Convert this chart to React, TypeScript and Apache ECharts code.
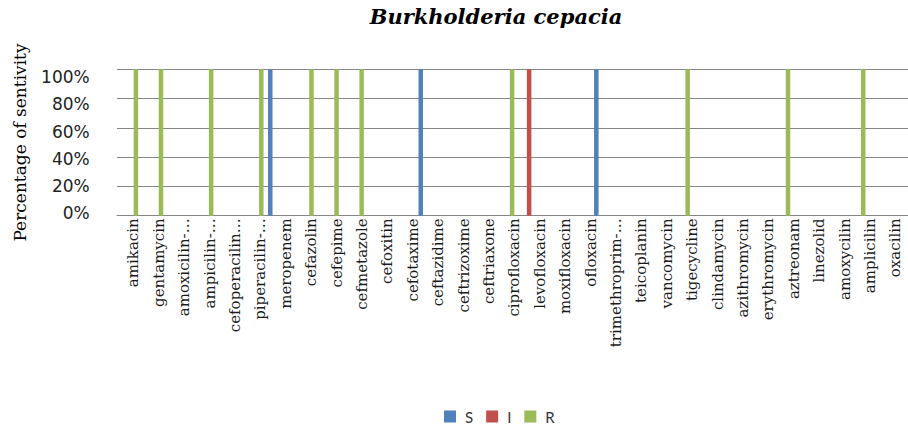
import React, { useEffect, useRef } from "react";
import * as echarts from "echarts";

const categories = [
  "amikacin", "gentamycin", "amoxicilin-…", "ampicilin-…", "cefoperacilin…",
  "piperacilin-…", "meropenem", "cefazolin", "cefepime", "cefmetazole",
  "cefoxitin", "cefotaxime", "ceftazidime", "ceftrizoxime", "ceftriaxone",
  "ciprofloxacin", "levofloxacin", "moxifloxacin", "ofloxacin", "trimethroprim-…",
  "teicoplanin", "vancomycin", "tigecycline", "clindamycin", "azithromycin",
  "erythromycin", "aztreonam", "linezolid", "amoxycilin", "amplicilin", "oxacilin",
];

const sValues = [0, 0, 0, 0, 0, 0, 100, 0, 0, 0, 0, 0, 100, 0, 0, 0, 0, 0, 0, 100, 0, 0, 0, 0, 0, 0, 0, 0, 0, 0, 0];
const iValues = [0, 0, 0, 0, 0, 0, 0, 0, 0, 0, 0, 0, 0, 0, 0, 0, 100, 0, 0, 0, 0, 0, 0, 0, 0, 0, 0, 0, 0, 0, 0];
const rValues = [100, 100, 0, 100, 0, 100, 0, 100, 100, 100, 0, 0, 0, 0, 0, 100, 0, 0, 0, 0, 0, 0, 100, 0, 0, 0, 100, 0, 0, 100, 0];

const seriesNames = ["S", "I", "R"];
const seriesColors = ["#4f81bd", "#c0504d", "#9bbb59"];
const yMin = 0;
const yMax = 100;
const yStep = 20;

const titleText = "Burkholderia cepacia";
const yName = "Percentage of sentivity";

export default function App() {
  const ref = useRef<HTMLDivElement>(null);
  useEffect(() => {
    if (!ref.current) return;
    const chart = echarts.init(ref.current, null, { renderer: "svg" });
    const valuesList = [sValues, iValues, rValues];
    chart.setOption({
      animation: false,
      title: {
        text: titleText,
        left: 496,
        textAlign: "center",
        top: 6,
        padding: 0,
        textStyle: {
          fontFamily: "DejaVu Serif",
          fontStyle: "italic",
          fontWeight: "bold",
          fontSize: 21,
          color: "#000",
        },
      },
      legend: {
        data: seriesNames,
        left: 444,
        top: 409,
        padding: 0,
        itemWidth: 12,
        itemHeight: 12,
        itemGap: 13,
        icon: "rect",
        textStyle: { fontFamily: "Lato", fontSize: 15, color: "#333", padding: [0, 0, 0, 4] },
      },
      grid: [
        { left: 117, right: -10, top: 69.3, height: 146.4 },
        { left: 120.7, width: 794.5, top: 77, height: 136.3 },
        { left: 115.3, width: 777.5, top: 69.3, height: 146.4 },
      ],
      xAxis: [
        {
          type: "category",
          gridIndex: 0,
          data: categories,
          axisLine: { show: true, lineStyle: { color: "#868686", width: 1 } },
          axisTick: { show: false },
          axisLabel: { show: false },
        },
        {
          type: "category",
          gridIndex: 1,
          data: categories,
          axisLine: { show: false },
          axisTick: { show: false },
          axisLabel: {
            interval: 0,
            rotate: 90,
            margin: 5,
            fontFamily: "DejaVu Serif",
            fontSize: 15,
            color: "#1a1a1a",
          },
        },
        {
          type: "category",
          gridIndex: 2,
          data: categories,
          show: false,
        },
      ],
      yAxis: [
        {
          type: "value",
          gridIndex: 0,
          min: yMin,
          max: yMax,
          interval: yStep,
          axisLine: { show: false },
          axisTick: { show: false },
          axisLabel: { show: false },
          splitLine: { show: true, lineStyle: { color: "#868686", width: 1 } },
          name: yName,
          nameLocation: "middle",
          nameRotate: 90,
          nameGap: 89,
          nameTextStyle: { fontFamily: "DejaVu Serif", fontSize: 17, color: "#000" },
        },
        {
          type: "value",
          gridIndex: 1,
          min: yMin,
          max: yMax,
          interval: yStep,
          axisLine: { show: false },
          axisTick: { show: false },
          splitLine: { show: false },
          axisLabel: {
            formatter: "{value}%",
            margin: 31,
            fontFamily: "DejaVu Sans",
            fontSize: 17,
            color: "#222",
          },
        },
        {
          type: "value",
          gridIndex: 2,
          min: yMin,
          max: yMax,
          show: false,
          splitLine: { show: false },
        },
      ],
      series: seriesNames.map((name, i) => ({
        name,
        type: "bar",
        xAxisIndex: 2,
        yAxisIndex: 2,
        data: valuesList[i],
        barWidth: 4.5,
        barGap: "79%",
        itemStyle: { color: seriesColors[i] },
      })),
    });
    return () => chart.dispose();
  }, []);
  return (
    <div
      ref={ref}
      style={{ position: "fixed", left: 0, top: 0, width: 908, height: 427, background: "#fff" }}
    />
  );
}
